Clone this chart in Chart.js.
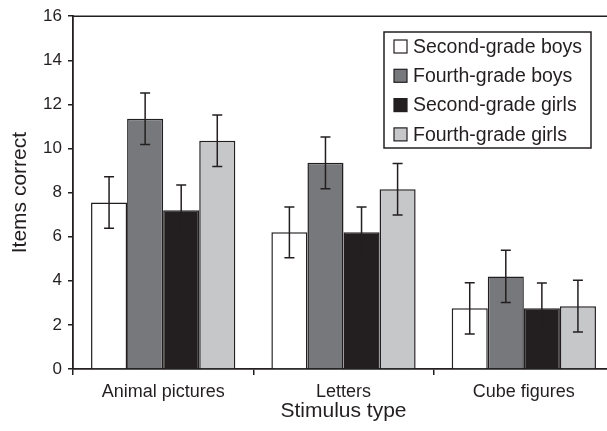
<!DOCTYPE html>
<html>
<head>
<meta charset="utf-8">
<script src="https://cdn.jsdelivr.net/npm/chart.js@4/dist/chart.umd.min.js"></script>
<style>
  html, body { margin: 0; padding: 0; background: #ffffff; overflow: hidden; }
  #wrap { width: 614px; height: 431px; }
</style>
</head>
<body>
<div id="wrap"><canvas id="c" width="614" height="431"></canvas></div>
<script>
// Mean items correct per stimulus type, with error bar half-widths
const categories = ['Animal pictures', 'Letters', 'Cube figures'];
const seriesNames = ['Second-grade boys', 'Fourth-grade boys', 'Second-grade girls', 'Fourth-grade girls'];

const secondGradeBoys  = [7.55, 6.2, 2.75];
const fourthGradeBoys  = [11.35, 9.35, 4.2];
const secondGradeGirls = [7.2, 6.2, 2.75];
const fourthGradeGirls = [10.35, 8.15, 2.85];

const secondGradeBoysErr  = [1.17, 1.15, 1.16];
const fourthGradeBoysErr  = [1.17, 1.17, 1.18];
const secondGradeGirlsErr = [1.15, 1.15, 1.15];
const fourthGradeGirlsErr = [1.17, 1.17, 1.17];

const yTicks = [0, 2, 4, 6, 8, 10, 12, 14, 16];

const INK = '#231f20';
const fills = ['#ffffff', '#77787b', '#231f20', '#c6c7c9'];
const values = [secondGradeBoys, fourthGradeBoys, secondGradeGirls, fourthGradeGirls];
const errors = [secondGradeBoysErr, fourthGradeBoysErr, secondGradeGirlsErr, fourthGradeGirlsErr];

const FONT = 'Liberation Sans, Arial, Helvetica, sans-serif';

// Error bars with caps, centred on each bar
const errorBars = {
  id: 'errorBars',
  afterDatasetsDraw(chart) {
    const ctx = chart.ctx;
    const y = chart.scales.y;
    ctx.save();
    ctx.strokeStyle = INK;
    ctx.lineWidth = 1.5;
    chart.data.datasets.forEach((ds, i) => {
      const meta = chart.getDatasetMeta(i);
      meta.data.forEach((bar, j) => {
        const v = ds.data[j];
        const e = ds.errors[j];
        const top = y.getPixelForValue(v + e);
        const bot = y.getPixelForValue(v - e);
        const x = bar.x;
        const cap = 5;
        ctx.beginPath();
        ctx.moveTo(x, top); ctx.lineTo(x, bot);
        ctx.moveTo(x - cap, top); ctx.lineTo(x + cap, top);
        ctx.moveTo(x - cap, bot); ctx.lineTo(x + cap, bot);
        ctx.stroke();
      });
    });
    ctx.restore();
  }
};

// Top and right edges of the plot frame
const frame = {
  id: 'frame',
  afterDraw(chart) {
    const { ctx, chartArea: a } = chart;
    ctx.save();
    ctx.strokeStyle = INK;
    ctx.lineWidth = 1.5;
    ctx.beginPath();
    ctx.moveTo(a.left, a.top);
    ctx.lineTo(a.right, a.top);
    ctx.lineTo(a.right, a.bottom);
    ctx.stroke();
    ctx.restore();
  }
};

// Boxed legend in the upper right of the plot
const boxLegend = {
  id: 'boxLegend',
  afterDraw(chart) {
    const ctx = chart.ctx;
    const bx = 384, by = 32, bw = 207, bh = 116;
    ctx.save();
    ctx.fillStyle = '#ffffff';
    ctx.fillRect(bx, by, bw, bh);
    ctx.strokeStyle = INK;
    ctx.lineWidth = 1.5;
    ctx.strokeRect(bx, by, bw, bh);
    ctx.font = '19.5px ' + FONT;
    ctx.textBaseline = 'middle';
    ctx.textAlign = 'left';
    chart.data.datasets.forEach((ds, i) => {
      const cy = 46.5 + i * 29.3;
      ctx.fillStyle = ds.backgroundColor;
      ctx.fillRect(394, cy - 6.5, 13, 13);
      ctx.lineWidth = 1.2;
      ctx.strokeRect(394, cy - 6.5, 13, 13);
      ctx.fillStyle = INK;
      ctx.fillText(ds.label, 413, cy + 1);
    });
    ctx.restore();
  }
};

new Chart(document.getElementById('c'), {
  type: 'bar',
  data: {
    labels: categories,
    datasets: seriesNames.map((name, i) => ({
      label: name,
      data: values[i],
      errors: errors[i],
      backgroundColor: fills[i],
      borderColor: INK,
      borderWidth: 1.5,
      borderSkipped: 'bottom',
      categoryPercentage: 0.8,
      barPercentage: 1.0
    }))
  },
  options: {
    responsive: false,
    animation: false,
    layout: { padding: { top: 16, right: 0, left: 0, bottom: 0 } },
    plugins: { legend: { display: false }, tooltip: { enabled: false } },
    scales: {
      x: {
        grid: { display: true, drawOnChartArea: false, drawTicks: true, tickLength: 6, color: INK, lineWidth: 1.5, offset: true },
        border: { display: true, color: INK, width: 1.8 },
        ticks: { color: INK, font: { family: FONT, size: 18 }, padding: 6 },
        title: { display: true, text: 'Stimulus type', color: INK, font: { family: FONT, size: 21 }, padding: { top: 0, bottom: 7 } },
        afterFit(s) { s.height = 62; }
      },
      y: {
        min: 0, max: 16,
        afterBuildTicks(s) { s.ticks = yTicks.map(v => ({ value: v })); },
        grid: { display: true, drawOnChartArea: false, drawTicks: true, tickLength: 5, color: INK, lineWidth: 1.5 },
        border: { display: true, color: INK, width: 1.8 },
        ticks: { color: INK, font: { family: FONT, size: 17 }, padding: 6 },
        title: { display: true, text: 'Items correct', color: INK, font: { family: FONT, size: 21 }, padding: { top: 8, bottom: 0 } },
        afterFit(s) { s.width = 73; }
      }
    }
  },
  plugins: [errorBars, frame, boxLegend]
});
</script>
</body>
</html>
